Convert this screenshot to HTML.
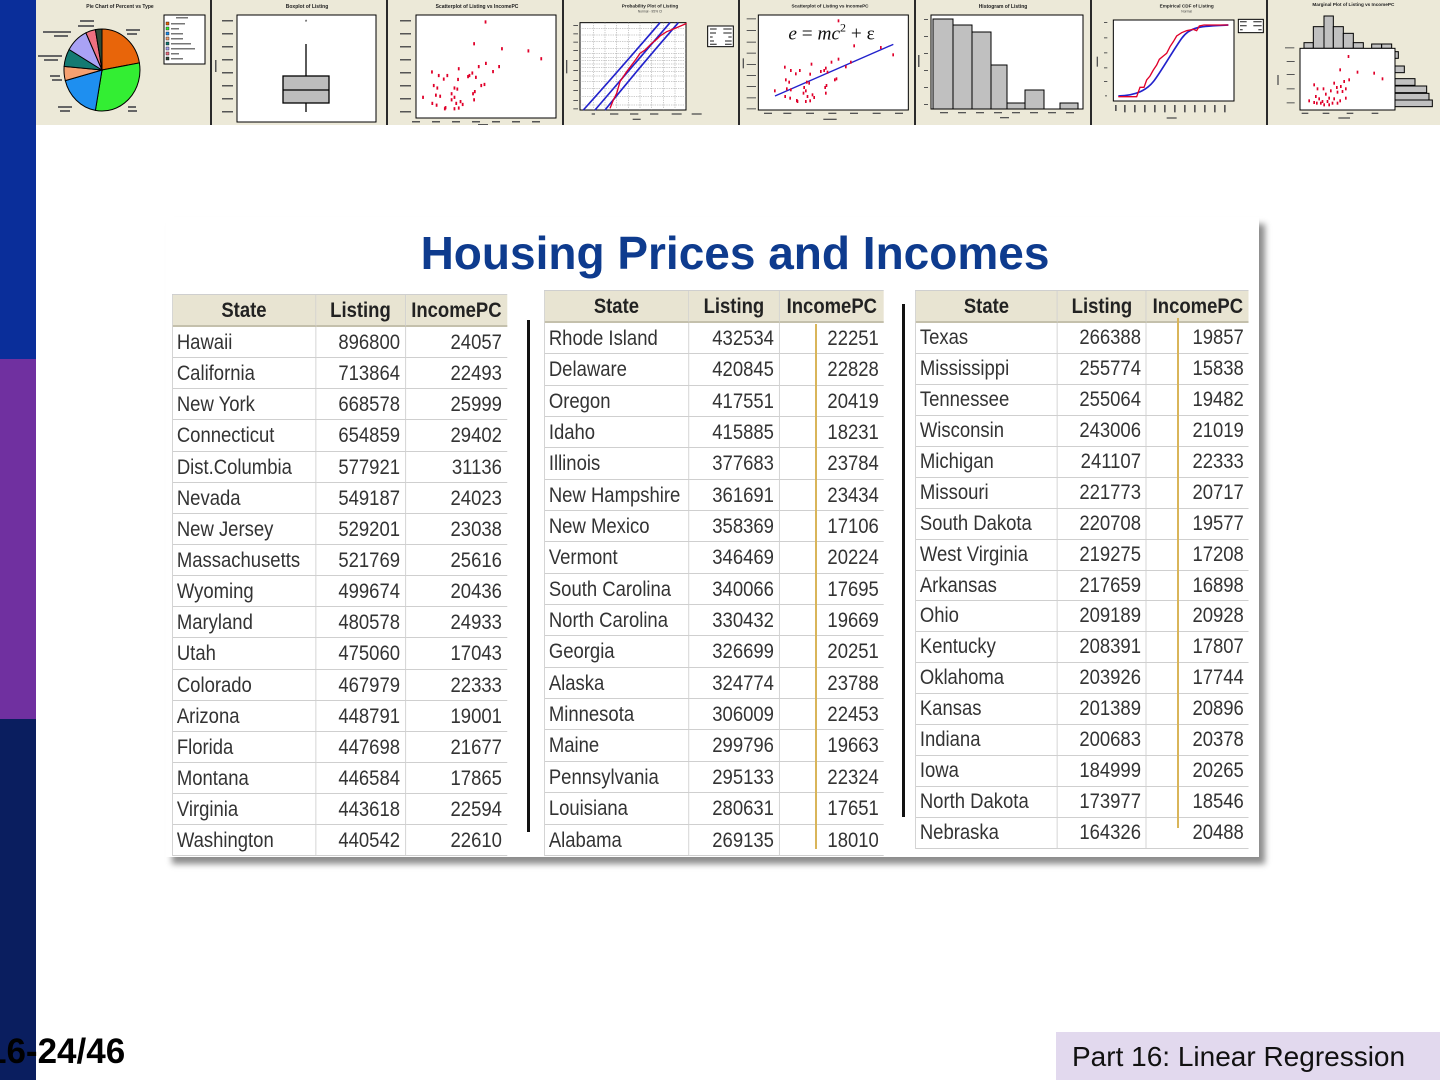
<!DOCTYPE html>
<html>
<head>
<meta charset="utf-8">
<style>
html,body{margin:0;padding:0;}
body{width:1440px;height:1080px;position:relative;overflow:hidden;background:#fff;font-family:"Liberation Sans",sans-serif;}
.sb{position:absolute;left:0;width:36px;}
.panel{position:absolute;left:166px;top:217px;width:1093px;height:640px;background:#fff;box-shadow:6px 7px 6px rgba(0,0,0,0.45);}
.title{position:absolute;left:165px;top:230px;width:1140px;text-align:center;font-size:46px;line-height:46px;font-weight:bold;color:#0E3B8E;white-space:nowrap;}
.t{position:absolute;display:grid;border-top:1px solid #cfcfcf;border-left:1px solid #cfcfcf;font-size:21px;color:#333;transform:scaleX(0.88);transform-origin:0 0;}
.t div{border-right:1px solid #cfcfcf;border-bottom:1px solid #cfcfcf;box-sizing:border-box;white-space:nowrap;overflow:hidden;}
.t div:nth-child(3n){border-right:none;}
.t .h{background:#E8E4D2;font-weight:bold;text-align:center;color:#222;border-bottom:2px solid #c4c0ac;}
.t .s{padding-left:4.5px;}
.t .n{text-align:right;padding-right:5.7px;}
.t1{left:172px;top:294px;grid-template-columns:162.5px 102.3px 114.8px;grid-template-rows:32px repeat(17,31.15px);}
.t1 div{line-height:31.15px;} .t1 .h{line-height:32px;}
.t2{left:544px;top:290px;grid-template-columns:163.6px 103.4px 118.2px;grid-template-rows:32px repeat(17,31.35px);}
.t2 div{line-height:31.35px;} .t2 .h{line-height:32px;}
.t3{left:915px;top:290px;grid-template-columns:161.4px 101.1px 115.9px;grid-template-rows:32px repeat(17,30.94px);}
.t3 div{line-height:30.94px;} .t3 .h{line-height:32px;}
.bl{position:absolute;background:#111;width:3px;}
.yl{position:absolute;background:#D9B55A;width:2px;}
.pg{position:absolute;left:-13px;top:1034px;font-size:35px;line-height:35px;font-weight:bold;color:#000;white-space:nowrap;z-index:5;}
.ft{position:absolute;left:1056px;top:1032px;width:384px;height:48px;background:#E2D9EE;}
.ft span{position:absolute;left:16px;top:11px;font-size:28px;line-height:28px;color:#111;white-space:nowrap;}
</style>
</head>
<body>

<svg width="1440" height="125" style="position:absolute;left:0;top:0" font-family="Liberation Sans, sans-serif">
<rect x="36" y="0" width="1404" height="125" fill="#ECE9D8"/>

<!-- Panel 1: pie -->
<text x="120" y="8" font-size="5" font-weight="bold" text-anchor="middle" fill="#222">Pie Chart of Percent vs Type</text>
<g stroke="#000" stroke-width="1">
<path d="M102,70 L102,29 A38,41 0 0 1 139.4,62.9 Z" fill="#E8650A"/>
<path d="M102,70 L139.4,62.9 A38,41 0 0 1 95.4,110.4 Z" fill="#33EE33"/>
<path d="M102,70 L95.4,110.4 A38,41 0 0 1 65.3,80.6 Z" fill="#1E8FF0"/>
<path d="M102,70 L65.3,80.6 A38,41 0 0 1 64.1,66.4 Z" fill="#F5A070"/>
<path d="M102,70 L64.1,66.4 A38,41 0 0 1 69.1,49.5 Z" fill="#137A72"/>
<path d="M102,70 L69.1,49.5 A38,41 0 0 1 85.9,32.8 Z" fill="#A9A2F5"/>
<path d="M102,70 L85.9,32.8 A38,41 0 0 1 95.4,29.6 Z" fill="#F07080"/>
<path d="M102,70 L95.4,29.6 A38,41 0 0 1 102,29 Z" fill="#2E4A36"/>
</g>
<g fill="#666">
<rect x="126" y="29" width="14" height="2"/><rect x="127" y="33" width="10" height="2"/>
<rect x="43" y="31" width="28" height="2"/><rect x="54" y="35" width="14" height="2"/>
<rect x="38" y="55" width="24" height="2"/><rect x="44" y="59" width="14" height="2"/>
<rect x="50" y="75" width="10" height="2"/><rect x="52" y="79" width="10" height="2"/>
<rect x="58" y="106" width="14" height="2"/><rect x="60" y="110" width="10" height="2"/>
<rect x="128" y="106" width="8" height="2"/><rect x="128" y="110" width="9" height="2"/>
<rect x="80" y="20" width="14" height="2"/><rect x="78" y="25" width="16" height="2"/>
</g>
<rect x="164" y="15" width="41" height="49" fill="#fff" stroke="#000" stroke-width="1"/>
<g stroke="#000" stroke-width="0.4">
<rect x="166" y="22" width="3" height="3" fill="#E8650A"/>
<rect x="166" y="27" width="3" height="3" fill="#33EE33"/>
<rect x="166" y="32" width="3" height="3" fill="#1E8FF0"/>
<rect x="166" y="37" width="3" height="3" fill="#F5A070"/>
<rect x="166" y="42" width="3" height="3" fill="#137A72"/>
<rect x="166" y="47" width="3" height="3" fill="#A9A2F5"/>
<rect x="166" y="52" width="3" height="3" fill="#F07080"/>
<rect x="166" y="57" width="3" height="3" fill="#2E4A36"/>
</g>
<g fill="#777">
<rect x="176" y="17" width="12" height="1.5"/>
<rect x="171" y="23" width="14" height="1.5"/><rect x="171" y="28" width="8" height="1.5"/>
<rect x="171" y="33" width="12" height="1.5"/><rect x="171" y="38" width="12" height="1.5"/>
<rect x="171" y="43" width="20" height="1.5"/><rect x="171" y="48" width="24" height="1.5"/>
<rect x="171" y="53" width="8" height="1.5"/><rect x="171" y="58" width="12" height="1.5"/>
</g>

<!-- Panel 2: boxplot -->
<text x="307" y="8" font-size="5" font-weight="bold" text-anchor="middle" fill="#222">Boxplot of Listing</text>
<rect x="237" y="15" width="139" height="107" fill="#fff" stroke="#000" stroke-width="1"/>
<g fill="#555">
<rect x="222" y="20" width="11" height="1.5"/><rect x="222" y="33" width="11" height="1.5"/>
<rect x="222" y="46" width="11" height="1.5"/><rect x="222" y="59" width="11" height="1.5"/>
<rect x="222" y="72" width="11" height="1.5"/><rect x="222" y="85" width="11" height="1.5"/>
<rect x="222" y="98" width="11" height="1.5"/><rect x="222" y="111" width="11" height="1.5"/>
<rect x="215" y="60" width="1.5" height="12"/>
</g>
<line x1="306" y1="44" x2="306" y2="76" stroke="#000" stroke-width="1.3"/>
<line x1="306" y1="103" x2="306" y2="112" stroke="#000" stroke-width="1.3"/>
<rect x="283" y="76" width="46" height="27" fill="#BDBDBD" stroke="#000" stroke-width="1.3"/>
<line x1="283" y1="90" x2="329" y2="90" stroke="#000" stroke-width="1.3"/>
<text x="306" y="24" font-size="6" text-anchor="middle" fill="#000">*</text>

<!-- Panel 3: scatter -->
<text x="477" y="8" font-size="5" font-weight="bold" text-anchor="middle" fill="#222">Scatterplot of Listing vs IncomePC</text>
<rect x="416" y="15" width="140" height="103" fill="#fff" stroke="#000" stroke-width="1"/>
<g fill="#555">
<rect x="400" y="20" width="11" height="1.5"/><rect x="400" y="33" width="11" height="1.5"/>
<rect x="400" y="46" width="11" height="1.5"/><rect x="400" y="59" width="11" height="1.5"/>
<rect x="400" y="72" width="11" height="1.5"/><rect x="400" y="85" width="11" height="1.5"/>
<rect x="400" y="98" width="11" height="1.5"/><rect x="400" y="111" width="11" height="1.5"/>
<rect x="412" y="121" width="8" height="1.5"/><rect x="432" y="121" width="8" height="1.5"/>
<rect x="452" y="121" width="8" height="1.5"/><rect x="472" y="121" width="8" height="1.5"/>
<rect x="492" y="121" width="8" height="1.5"/><rect x="512" y="121" width="8" height="1.5"/>
<rect x="532" y="121" width="8" height="1.5"/><rect x="478" y="124" width="10" height="1"/>
</g>
<g transform="scale(0.35714)" fill="#E0002A">
<rect x="1357" y="57" width="5" height="9"/><rect x="1325" y="118" width="5" height="9"/><rect x="1403" y="132" width="5" height="9"/>
<rect x="1477" y="138" width="5" height="9"/><rect x="1513" y="160" width="5" height="9"/><rect x="1358" y="173" width="5" height="9"/>
<rect x="1338" y="182" width="5" height="9"/><rect x="1395" y="182" width="5" height="9"/><rect x="1282" y="188" width="5" height="9"/>
<rect x="1378" y="196" width="5" height="9"/><rect x="1207" y="197" width="5" height="9"/><rect x="1226" y="207" width="5" height="9"/>
<rect x="1250" y="207" width="5" height="9"/><rect x="1312" y="207" width="5" height="9"/><rect x="1320" y="200" width="5" height="9"/>
<rect x="1330" y="212" width="5" height="9"/><rect x="1308" y="210" width="5" height="9"/><rect x="1240" y="217" width="5" height="9"/>
<rect x="1280" y="218" width="5" height="9"/><rect x="1212" y="235" width="5" height="9"/><rect x="1354" y="232" width="5" height="9"/>
<rect x="1345" y="235" width="5" height="9"/><rect x="1222" y="242" width="5" height="9"/><rect x="1270" y="242" width="5" height="9"/>
<rect x="1278" y="245" width="5" height="9"/><rect x="1327" y="252" width="5" height="9"/><rect x="1322" y="258" width="5" height="9"/>
<rect x="1262" y="258" width="5" height="9"/><rect x="1218" y="262" width="5" height="9"/><rect x="1230" y="265" width="5" height="9"/>
<rect x="1182" y="268" width="5" height="9"/><rect x="1270" y="268" width="5" height="9"/><rect x="1325" y="275" width="5" height="9"/>
<rect x="1262" y="275" width="5" height="9"/><rect x="1287" y="280" width="5" height="9"/><rect x="1208" y="285" width="5" height="9"/>
<rect x="1275" y="285" width="5" height="9"/><rect x="1293" y="288" width="5" height="9"/><rect x="1220" y="290" width="5" height="9"/>
<rect x="1245" y="297" width="5" height="9"/><rect x="1282" y="298" width="5" height="9"/><rect x="1270" y="300" width="5" height="9"/>
<rect x="1243" y="300" width="5" height="9"/>
</g>

<!-- Panels 4-5 in zoom2 coords -->
<g transform="translate(560,0) scale(0.33333)">
<text x="270" y="22" font-size="14" font-weight="bold" text-anchor="middle" fill="#222">Probability Plot of Listing</text>
<text x="270" y="38" font-size="10" text-anchor="middle" fill="#444">Normal - 95% CI</text>
<rect x="60" y="68" width="318" height="262" fill="#fff" stroke="#000" stroke-width="3"/>
<g stroke="#999" stroke-width="1.5" stroke-dasharray="4 3">
<line x1="100" y1="68" x2="100" y2="330"/><line x1="135" y1="68" x2="135" y2="330"/>
<line x1="170" y1="68" x2="170" y2="330"/><line x1="205" y1="68" x2="205" y2="330"/>
<line x1="240" y1="68" x2="240" y2="330"/><line x1="275" y1="68" x2="275" y2="330"/>
<line x1="310" y1="68" x2="310" y2="330"/><line x1="345" y1="68" x2="345" y2="330"/>
<line x1="60" y1="85" x2="378" y2="85"/><line x1="60" y1="105" x2="378" y2="105"/>
<line x1="60" y1="125" x2="378" y2="125"/><line x1="60" y1="145" x2="378" y2="145"/>
<line x1="60" y1="160" x2="378" y2="160"/><line x1="60" y1="172" x2="378" y2="172"/>
<line x1="60" y1="182" x2="378" y2="182"/><line x1="60" y1="192" x2="378" y2="192"/>
<line x1="60" y1="202" x2="378" y2="202"/><line x1="60" y1="214" x2="378" y2="214"/>
<line x1="60" y1="228" x2="378" y2="228"/><line x1="60" y1="245" x2="378" y2="245"/>
<line x1="60" y1="265" x2="378" y2="265"/><line x1="60" y1="290" x2="378" y2="290"/>
<line x1="60" y1="315" x2="378" y2="315"/>
</g>
<g stroke="#2222CC" stroke-width="5" fill="none">
<path d="M70,330 Q160,230 300,68"/>
<path d="M105,330 L330,68"/>
<path d="M135,330 Q240,200 355,68"/>
</g>
<polyline points="150,325 160,300 170,280 180,245 190,230 200,215 215,195 230,175 240,160 255,150 265,140 275,130 290,118 300,108 320,95 345,85 380,70" fill="none" stroke="#E0002A" stroke-width="4"/>
<rect x="443" y="78" width="77" height="62" fill="#fff" stroke="#000" stroke-width="3"/>
<g fill="#555">
<rect x="450" y="85" width="20" height="4"/><rect x="490" y="85" width="25" height="4"/>
<rect x="450" y="97" width="18" height="4"/><rect x="490" y="97" width="25" height="4"/>
<rect x="450" y="109" width="8" height="4"/><rect x="505" y="109" width="10" height="4"/>
<rect x="450" y="121" width="12" height="4"/><rect x="495" y="121" width="20" height="4"/>
<rect x="450" y="131" width="20" height="4"/><rect x="495" y="131" width="20" height="4"/>
<rect x="40" y="75" width="14" height="3"/><rect x="40" y="100" width="14" height="3"/>
<rect x="40" y="125" width="14" height="3"/><rect x="40" y="150" width="14" height="3"/>
<rect x="40" y="180" width="14" height="3"/><rect x="40" y="210" width="14" height="3"/>
<rect x="40" y="240" width="14" height="3"/><rect x="40" y="270" width="14" height="3"/>
<rect x="40" y="300" width="14" height="3"/><rect x="40" y="325" width="14" height="3"/>
<rect x="18" y="180" width="4" height="40"/>
<rect x="95" y="340" width="10" height="4"/><rect x="150" y="340" width="25" height="4"/>
<rect x="210" y="340" width="25" height="4"/><rect x="270" y="340" width="25" height="4"/>
<rect x="335" y="340" width="30" height="4"/><rect x="395" y="340" width="30" height="4"/>
<rect x="218" y="356" width="24" height="4"/>
</g>

<text x="810" y="22" font-size="14" font-weight="bold" text-anchor="middle" fill="#222">Scatterplot of Listing vs IncomePC</text>
<rect x="595" y="45" width="450" height="285" fill="#fff" stroke="#000" stroke-width="3"/>
<g fill="#555">
<rect x="560" y="55" width="28" height="3"/><rect x="560" y="90" width="28" height="3"/>
<rect x="560" y="125" width="28" height="3"/><rect x="560" y="158" width="28" height="3"/>
<rect x="560" y="192" width="28" height="3"/><rect x="560" y="225" width="28" height="3"/>
<rect x="560" y="258" width="28" height="3"/><rect x="560" y="292" width="28" height="3"/>
<rect x="560" y="325" width="28" height="3"/><rect x="548" y="175" width="4" height="30"/>
<rect x="612" y="338" width="24" height="4"/><rect x="670" y="338" width="24" height="4"/>
<rect x="738" y="338" width="24" height="4"/><rect x="805" y="338" width="24" height="4"/>
<rect x="870" y="338" width="24" height="4"/><rect x="938" y="338" width="24" height="4"/>
<rect x="1005" y="338" width="24" height="4"/><rect x="790" y="356" width="40" height="4"/>
</g>
<text x="685" y="118" font-family="Liberation Serif, serif" font-size="58" fill="#111"><tspan font-style="italic">e</tspan> = <tspan font-style="italic">mc</tspan><tspan dy="-24" font-size="36">2</tspan><tspan dy="24"> + ε</tspan></text>
<line x1="645" y1="288" x2="1000" y2="133" stroke="#2222CC" stroke-width="4"/>
<g fill="#E0002A">
<rect x="833" y="58" width="5" height="9"/><rect x="880" y="133" width="5" height="9"/><rect x="960" y="138" width="5" height="9"/>
<rect x="997" y="160" width="5" height="9"/><rect x="833" y="173" width="5" height="9"/><rect x="812" y="182" width="5" height="9"/>
<rect x="870" y="182" width="5" height="9"/><rect x="752" y="188" width="5" height="9"/><rect x="855" y="196" width="5" height="9"/>
<rect x="672" y="197" width="5" height="9"/><rect x="690" y="207" width="5" height="9"/><rect x="717" y="207" width="5" height="9"/>
<rect x="790" y="207" width="5" height="9"/><rect x="795" y="200" width="5" height="9"/><rect x="800" y="212" width="5" height="9"/>
<rect x="780" y="210" width="5" height="9"/><rect x="705" y="217" width="5" height="9"/><rect x="748" y="218" width="5" height="9"/>
<rect x="675" y="235" width="5" height="9"/><rect x="827" y="232" width="5" height="9"/><rect x="822" y="235" width="5" height="9"/>
<rect x="685" y="242" width="5" height="9"/><rect x="738" y="242" width="5" height="9"/><rect x="745" y="245" width="5" height="9"/>
<rect x="797" y="252" width="5" height="9"/><rect x="793" y="258" width="5" height="9"/><rect x="730" y="258" width="5" height="9"/>
<rect x="678" y="262" width="5" height="9"/><rect x="690" y="265" width="5" height="9"/><rect x="642" y="268" width="5" height="9"/>
<rect x="735" y="268" width="5" height="9"/><rect x="795" y="275" width="5" height="9"/><rect x="728" y="275" width="5" height="9"/>
<rect x="755" y="280" width="5" height="9"/><rect x="673" y="285" width="5" height="9"/><rect x="740" y="285" width="5" height="9"/>
<rect x="760" y="288" width="5" height="9"/><rect x="688" y="290" width="5" height="9"/><rect x="708" y="297" width="5" height="9"/>
<rect x="748" y="298" width="5" height="9"/><rect x="735" y="300" width="5" height="9"/><rect x="710" y="300" width="5" height="9"/>
</g>
</g>

<!-- Panel 6: histogram -->
<text x="1003" y="8" font-size="5" font-weight="bold" text-anchor="middle" fill="#222">Histogram of Listing</text>
<rect x="931" y="15" width="152" height="94" fill="#fff" stroke="#000" stroke-width="1"/>
<g fill="#C0C0C0" stroke="#000" stroke-width="1">
<rect x="933" y="19" width="20" height="90"/>
<rect x="953" y="25" width="19" height="84"/>
<rect x="972" y="32" width="19" height="77"/>
<rect x="991" y="65" width="16" height="44"/>
<rect x="1007" y="103" width="18" height="6"/>
<rect x="1025" y="90" width="19" height="19"/>
<rect x="1060" y="103" width="18" height="6"/>
</g>
<g fill="#555">
<rect x="924" y="19" width="4" height="1"/><rect x="924" y="36" width="4" height="1"/>
<rect x="924" y="53" width="4" height="1"/><rect x="924" y="70" width="4" height="1"/>
<rect x="924" y="87" width="4" height="1"/><rect x="924" y="104" width="4" height="1"/>
<rect x="918" y="55" width="1.5" height="12"/>
<rect x="940" y="112" width="8" height="1.3"/><rect x="958" y="112" width="8" height="1.3"/>
<rect x="976" y="112" width="8" height="1.3"/><rect x="994" y="112" width="8" height="1.3"/>
<rect x="1012" y="112" width="8" height="1.3"/><rect x="1030" y="112" width="8" height="1.3"/>
<rect x="1048" y="112" width="8" height="1.3"/><rect x="1066" y="112" width="8" height="1.3"/>
<rect x="1000" y="117" width="9" height="1.3"/>
</g>

<!-- Panels 7-8 in zoom3 coords -->
<g transform="translate(1000,0) scale(0.33333)">
<text x="560" y="22" font-size="14" font-weight="bold" text-anchor="middle" fill="#222">Empirical CDF of Listing</text>
<text x="560" y="38" font-size="10" text-anchor="middle" fill="#444">Normal</text>
<rect x="340" y="60" width="362" height="243" fill="#fff" stroke="#000" stroke-width="3"/>
<g fill="#555">
<rect x="312" y="66" width="10" height="3"/><rect x="312" y="112" width="10" height="3"/>
<rect x="312" y="157" width="10" height="3"/><rect x="312" y="202" width="10" height="3"/>
<rect x="312" y="243" width="10" height="3"/><rect x="315" y="286" width="6" height="3"/>
<rect x="290" y="170" width="4" height="30"/>
<rect x="345" y="315" width="5" height="18"/><rect x="372" y="315" width="5" height="22"/>
<rect x="402" y="315" width="5" height="22"/><rect x="432" y="315" width="5" height="22"/>
<rect x="462" y="315" width="5" height="22"/><rect x="492" y="315" width="5" height="22"/>
<rect x="522" y="315" width="5" height="22"/><rect x="552" y="315" width="5" height="22"/>
<rect x="582" y="315" width="5" height="22"/><rect x="612" y="315" width="5" height="22"/>
<rect x="642" y="315" width="5" height="22"/><rect x="672" y="315" width="5" height="22"/>
<rect x="500" y="352" width="30" height="4"/>
</g>
<path d="M355,288 C410,286 440,270 460,245 S 520,150 545,115 S 600,78 685,75" fill="none" stroke="#2222CC" stroke-width="5"/>
<polyline points="355,290 410,290 420,262 432,262 440,240 450,228 460,210 470,195 478,178 490,168 500,160 510,140 520,125 530,108 545,98 560,92 580,88 590,92 598,78 612,75 685,75" fill="none" stroke="#E0002A" stroke-width="4"/>
<rect x="715" y="58" width="75" height="40" fill="#fff" stroke="#000" stroke-width="3"/>
<g fill="#555">
<rect x="720" y="63" width="20" height="4"/><rect x="760" y="63" width="25" height="4"/>
<rect x="720" y="75" width="20" height="4"/><rect x="760" y="75" width="25" height="4"/>
<rect x="720" y="87" width="8" height="4"/><rect x="775" y="87" width="10" height="4"/>
</g>

<text x="1060" y="18" font-size="14" font-weight="bold" text-anchor="middle" fill="#222">Marginal Plot of Listing vs IncomePC</text>
<g fill="#C0C0C0" stroke="#000" stroke-width="3">
<rect x="912" y="128" width="28" height="17"/>
<rect x="940" y="80" width="32" height="65"/>
<rect x="972" y="48" width="28" height="97"/>
<rect x="1000" y="80" width="30" height="65"/>
<rect x="1030" y="100" width="30" height="45"/>
<rect x="1060" y="128" width="30" height="17"/>
<rect x="1115" y="132" width="30" height="13"/>
<rect x="1145" y="132" width="30" height="13"/>
<rect x="1185" y="155" width="10" height="20"/>
<rect x="1185" y="198" width="28" height="20"/>
<rect x="1185" y="236" width="60" height="20"/>
<rect x="1185" y="258" width="95" height="20"/>
<rect x="1185" y="280" width="102" height="20"/>
<rect x="1185" y="300" width="112" height="20"/>
</g>
<rect x="900" y="145" width="285" height="185" fill="#fff" stroke="#000" stroke-width="3"/>
<g fill="#555">
<rect x="855" y="142" width="28" height="3"/><rect x="860" y="183" width="24" height="3"/>
<rect x="860" y="222" width="24" height="3"/><rect x="860" y="265" width="24" height="3"/>
<rect x="860" y="307" width="24" height="3"/><rect x="832" y="225" width="4" height="30"/>
<rect x="905" y="338" width="20" height="4"/><rect x="968" y="338" width="20" height="4"/>
<rect x="1040" y="338" width="20" height="4"/><rect x="1115" y="338" width="20" height="4"/>
<rect x="1015" y="352" width="35" height="4"/>
</g>
<g fill="#E0002A">
<rect x="1043" y="165" width="5" height="9"/><rect x="1018" y="205" width="5" height="9"/><rect x="1120" y="215" width="5" height="9"/>
<rect x="1145" y="232" width="5" height="9"/><rect x="1070" y="212" width="5" height="9"/><rect x="1045" y="235" width="5" height="9"/>
<rect x="1030" y="240" width="5" height="9"/><rect x="1000" y="245" width="5" height="9"/><rect x="1020" y="255" width="5" height="9"/>
<rect x="1008" y="258" width="5" height="9"/><rect x="940" y="250" width="5" height="9"/><rect x="950" y="262" width="5" height="9"/>
<rect x="968" y="262" width="5" height="9"/><rect x="1035" y="262" width="5" height="9"/><rect x="1025" y="270" width="5" height="9"/>
<rect x="990" y="268" width="5" height="9"/><rect x="1010" y="272" width="5" height="9"/><rect x="975" y="278" width="5" height="9"/>
<rect x="945" y="285" width="5" height="9"/><rect x="1035" y="290" width="5" height="9"/><rect x="955" y="292" width="5" height="9"/>
<rect x="985" y="290" width="5" height="9"/><rect x="1000" y="292" width="5" height="9"/><rect x="1018" y="298" width="5" height="9"/>
<rect x="980" y="300" width="5" height="9"/><rect x="995" y="305" width="5" height="9"/><rect x="1010" y="305" width="5" height="9"/>
<rect x="960" y="305" width="5" height="9"/><rect x="940" y="303" width="5" height="9"/><rect x="925" y="298" width="5" height="9"/>
<rect x="985" y="310" width="5" height="9"/><rect x="970" y="310" width="5" height="9"/><rect x="965" y="300" width="5" height="9"/>
<rect x="948" y="305" width="5" height="9"/>
</g>
</g>

<g stroke="#2a2a2a" stroke-width="2">
<line x1="211" y1="0" x2="211" y2="125"/><line x1="387" y1="0" x2="387" y2="125"/>
<line x1="563" y1="0" x2="563" y2="125"/><line x1="739" y1="0" x2="739" y2="125"/>
<line x1="915" y1="0" x2="915" y2="125"/><line x1="1091" y1="0" x2="1091" y2="125"/>
<line x1="1267" y1="0" x2="1267" y2="125"/>
</g>
</svg>

<div class="sb" style="top:0;height:359px;background:#0A2E9A;"></div>
<div class="sb" style="top:359px;height:360px;background:#7030A0;"></div>
<div class="sb" style="top:719px;height:361px;background:#0A1E5F;"></div>

<div class="panel"></div>
<div class="title">Housing Prices and Incomes</div>

<div class="t t1">
<div class="h">State</div><div class="h">Listing</div><div class="h">IncomePC</div>
<div class="s">Hawaii</div><div class="n">896800</div><div class="n">24057</div>
<div class="s">California</div><div class="n">713864</div><div class="n">22493</div>
<div class="s">New York</div><div class="n">668578</div><div class="n">25999</div>
<div class="s">Connecticut</div><div class="n">654859</div><div class="n">29402</div>
<div class="s">Dist.Columbia</div><div class="n">577921</div><div class="n">31136</div>
<div class="s">Nevada</div><div class="n">549187</div><div class="n">24023</div>
<div class="s">New Jersey</div><div class="n">529201</div><div class="n">23038</div>
<div class="s">Massachusetts</div><div class="n">521769</div><div class="n">25616</div>
<div class="s">Wyoming</div><div class="n">499674</div><div class="n">20436</div>
<div class="s">Maryland</div><div class="n">480578</div><div class="n">24933</div>
<div class="s">Utah</div><div class="n">475060</div><div class="n">17043</div>
<div class="s">Colorado</div><div class="n">467979</div><div class="n">22333</div>
<div class="s">Arizona</div><div class="n">448791</div><div class="n">19001</div>
<div class="s">Florida</div><div class="n">447698</div><div class="n">21677</div>
<div class="s">Montana</div><div class="n">446584</div><div class="n">17865</div>
<div class="s">Virginia</div><div class="n">443618</div><div class="n">22594</div>
<div class="s">Washington</div><div class="n">440542</div><div class="n">22610</div>
</div>

<div class="t t2">
<div class="h">State</div><div class="h">Listing</div><div class="h">IncomePC</div>
<div class="s">Rhode Island</div><div class="n">432534</div><div class="n">22251</div>
<div class="s">Delaware</div><div class="n">420845</div><div class="n">22828</div>
<div class="s">Oregon</div><div class="n">417551</div><div class="n">20419</div>
<div class="s">Idaho</div><div class="n">415885</div><div class="n">18231</div>
<div class="s">Illinois</div><div class="n">377683</div><div class="n">23784</div>
<div class="s">New Hampshire</div><div class="n">361691</div><div class="n">23434</div>
<div class="s">New Mexico</div><div class="n">358369</div><div class="n">17106</div>
<div class="s">Vermont</div><div class="n">346469</div><div class="n">20224</div>
<div class="s">South Carolina</div><div class="n">340066</div><div class="n">17695</div>
<div class="s">North Carolina</div><div class="n">330432</div><div class="n">19669</div>
<div class="s">Georgia</div><div class="n">326699</div><div class="n">20251</div>
<div class="s">Alaska</div><div class="n">324774</div><div class="n">23788</div>
<div class="s">Minnesota</div><div class="n">306009</div><div class="n">22453</div>
<div class="s">Maine</div><div class="n">299796</div><div class="n">19663</div>
<div class="s">Pennsylvania</div><div class="n">295133</div><div class="n">22324</div>
<div class="s">Louisiana</div><div class="n">280631</div><div class="n">17651</div>
<div class="s">Alabama</div><div class="n">269135</div><div class="n">18010</div>
</div>

<div class="t t3">
<div class="h">State</div><div class="h">Listing</div><div class="h">IncomePC</div>
<div class="s">Texas</div><div class="n">266388</div><div class="n">19857</div>
<div class="s">Mississippi</div><div class="n">255774</div><div class="n">15838</div>
<div class="s">Tennessee</div><div class="n">255064</div><div class="n">19482</div>
<div class="s">Wisconsin</div><div class="n">243006</div><div class="n">21019</div>
<div class="s">Michigan</div><div class="n">241107</div><div class="n">22333</div>
<div class="s">Missouri</div><div class="n">221773</div><div class="n">20717</div>
<div class="s">South Dakota</div><div class="n">220708</div><div class="n">19577</div>
<div class="s">West Virginia</div><div class="n">219275</div><div class="n">17208</div>
<div class="s">Arkansas</div><div class="n">217659</div><div class="n">16898</div>
<div class="s">Ohio</div><div class="n">209189</div><div class="n">20928</div>
<div class="s">Kentucky</div><div class="n">208391</div><div class="n">17807</div>
<div class="s">Oklahoma</div><div class="n">203926</div><div class="n">17744</div>
<div class="s">Kansas</div><div class="n">201389</div><div class="n">20896</div>
<div class="s">Indiana</div><div class="n">200683</div><div class="n">20378</div>
<div class="s">Iowa</div><div class="n">184999</div><div class="n">20265</div>
<div class="s">North Dakota</div><div class="n">173977</div><div class="n">18546</div>
<div class="s">Nebraska</div><div class="n">164326</div><div class="n">20488</div>
</div>

<div class="bl" style="left:527px;top:320px;height:512px;"></div>
<div class="bl" style="left:902px;top:304px;height:513px;"></div>
<div class="yl" style="left:815px;top:324px;height:525px;"></div>
<div class="yl" style="left:1177px;top:318px;height:510px;"></div>

<div class="pg">16-24/46</div>
<div class="ft"><span>Part 16: Linear Regression</span></div>

</body>
</html>
